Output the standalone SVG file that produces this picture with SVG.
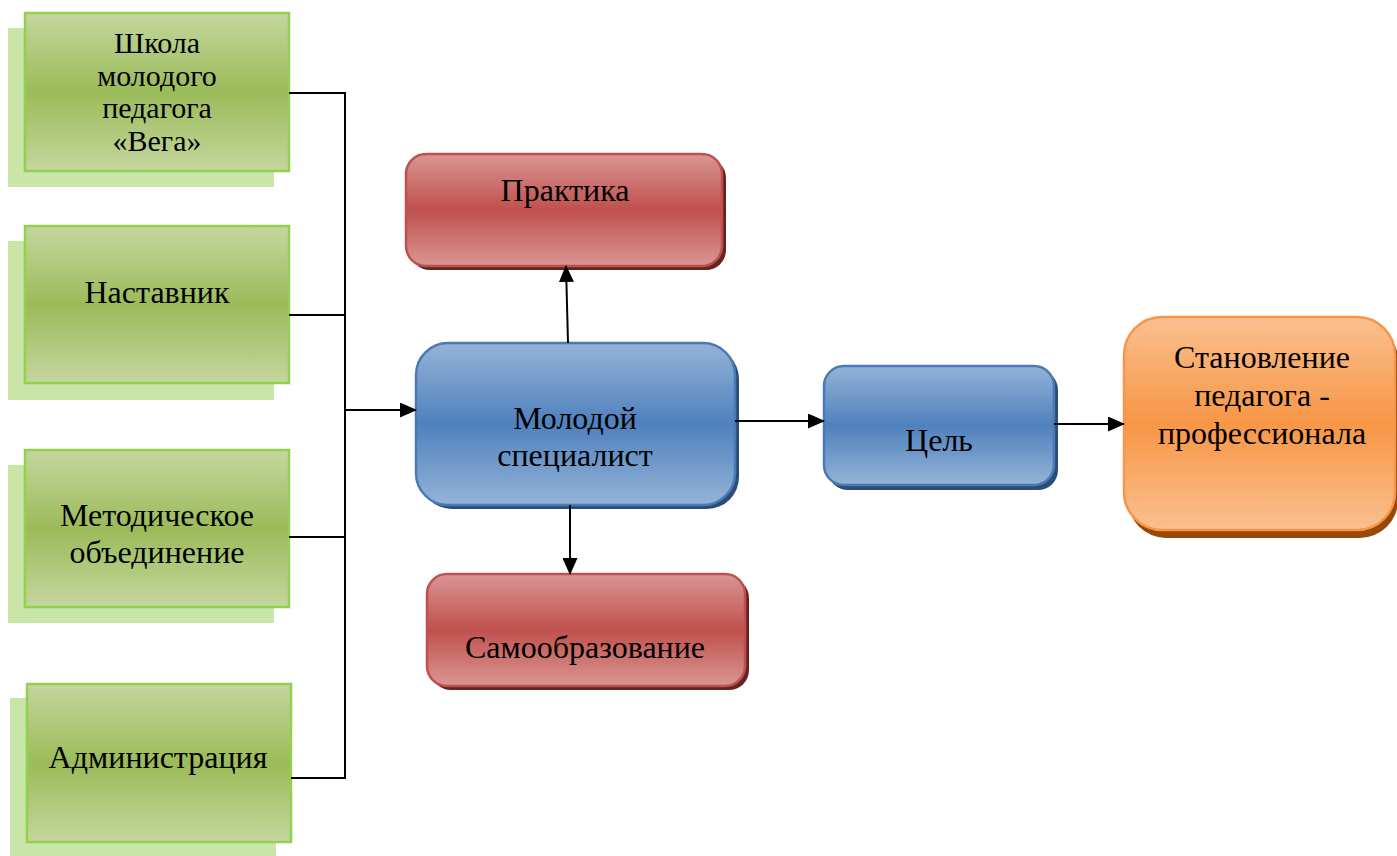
<svg xmlns="http://www.w3.org/2000/svg" width="1397" height="856" viewBox="0 0 1397 856">
<defs>
<linearGradient id="gG" x1="0" y1="0" x2="0" y2="1">
<stop offset="0" stop-color="#c5d69e"/><stop offset="0.5" stop-color="#9bbb59"/><stop offset="1" stop-color="#c5d69e"/>
</linearGradient>
<linearGradient id="gB" x1="0" y1="0" x2="0" y2="1">
<stop offset="0" stop-color="#95b3d7"/><stop offset="0.5" stop-color="#4f81bd"/><stop offset="1" stop-color="#95b3d7"/>
</linearGradient>
<linearGradient id="gR" x1="0" y1="0" x2="0" y2="1">
<stop offset="0" stop-color="#d99694"/><stop offset="0.5" stop-color="#c0504d"/><stop offset="1" stop-color="#d99694"/>
</linearGradient>
<linearGradient id="gO" x1="0" y1="0" x2="0" y2="1">
<stop offset="0" stop-color="#fac08f"/><stop offset="0.5" stop-color="#f79646"/><stop offset="1" stop-color="#fac08f"/>
</linearGradient>
<marker id="arr2" markerWidth="17" markerHeight="15" refX="16" refY="7.5" orient="auto" markerUnits="userSpaceOnUse">
<path d="M0,0 L17,7.5 L0,15 z" fill="#000"/>
</marker>
</defs>
<style>
text{font-family:"Liberation Serif","Times New Roman",serif;font-size:32px;fill:#000;text-anchor:middle}
text.sm{font-size:30px}
.gsh{fill:#c9e5a8}
.gbox{fill:url(#gG);stroke:#92d050;stroke-width:2.5}
.bbox{fill:url(#gB);stroke:#4a7ab5;stroke-width:2.5}
.bsh{fill:#2c4d75}
.rbox{fill:url(#gR);stroke:#c0504d;stroke-width:2.5}
.rsh{fill:#632523}
.obox{fill:url(#gO);stroke:#f79646;stroke-width:2.5}
.osh{fill:#984807}
.con{fill:none;stroke:#000;stroke-width:2}
</style>
<rect width="1397" height="856" fill="#fff"/>

<g id="n-school">
<rect class="gsh" x="8" y="28" width="266" height="159"/>
<rect class="gbox" x="25" y="13" width="264" height="158"/>
<text class="sm" x="157" y="53">Школа</text>
<text class="sm" x="157" y="86">молодого</text>
<text class="sm" x="157" y="118">педагога</text>
<text class="sm" x="157" y="151">«Вега»</text>
</g>
<g id="n-mentor">
<rect class="gsh" x="8" y="241" width="266" height="159"/>
<rect class="gbox" x="25" y="226" width="264" height="157"/>
<text x="157" y="303">Наставник</text>
</g>
<g id="n-method">
<rect class="gsh" x="8" y="465" width="266" height="158"/>
<rect class="gbox" x="25" y="450" width="264" height="157"/>
<text x="157" y="526">Методическое</text>
<text x="157" y="563">объединение</text>
</g>
<g id="n-admin">
<rect class="gsh" x="10" y="698" width="266" height="158"/>
<rect class="gbox" x="27" y="684" width="264" height="158"/>
<text x="158" y="768">Администрация</text>
</g>

<g id="n-young">
<rect class="bsh" x="420" y="347" width="319" height="162" rx="32"/>
<rect class="bbox" x="416" y="343" width="319" height="162" rx="32"/>
<text x="575" y="429">Молодой</text>
<text x="575" y="466">специалист</text>
</g>
<g id="n-practice">
<rect class="rsh" x="410" y="158" width="316" height="112" rx="20"/>
<rect class="rbox" x="406" y="154" width="316" height="112" rx="20"/>
<text x="565" y="201">Практика</text>
</g>
<g id="n-self">
<rect class="rsh" x="431" y="578" width="318" height="112" rx="20"/>
<rect class="rbox" x="427" y="574" width="318" height="112" rx="20"/>
<text x="585" y="658">Самообразование</text>
</g>
<g id="n-goal">
<rect class="bsh" x="828" y="370" width="230" height="120" rx="20"/>
<rect class="bbox" x="824" y="366" width="230" height="119" rx="20"/>
<text x="939" y="451">Цель</text>
</g>
<g id="n-pro">
<rect class="osh" x="1128" y="322" width="270" height="216" rx="38"/>
<rect class="obox" x="1124" y="317" width="271" height="213" rx="38"/>
<text x="1262" y="368">Становление</text>
<text x="1262" y="406">педагога -</text>
<text x="1262" y="444">профессионала</text>
</g>

<g id="connectors">
<path class="con" d="M289,93 H345 V778 H291"/>
<path class="con" d="M289,315 H345"/>
<path class="con" d="M289,537 H345"/>
<path class="con" d="M345,410 H416" marker-end="url(#arr2)"/>
<path class="con" d="M568,343 L566,266" marker-end="url(#arr2)"/>
<path class="con" d="M570,505 V574" marker-end="url(#arr2)"/>
<path class="con" d="M735,421 H824" marker-end="url(#arr2)"/>
<path class="con" d="M1054,424 H1124" marker-end="url(#arr2)"/>
</g>
</svg>
